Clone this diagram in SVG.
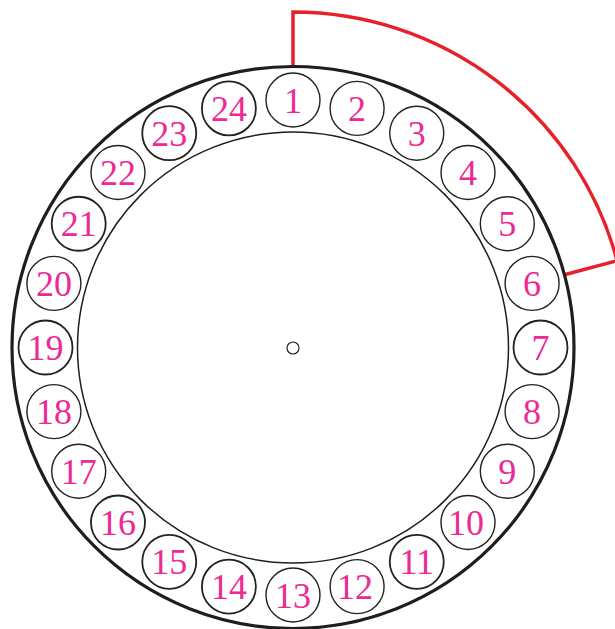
<svg xmlns="http://www.w3.org/2000/svg" width="615" height="629" viewBox="0 0 615 629">
<style>
.slot{fill:#fff;stroke:#222;stroke-width:1.4}
.num{font-family:"Liberation Serif","Times New Roman",serif;font-size:36px;fill:#ec2a93;text-anchor:middle}
</style>
<rect width="615" height="629" fill="#fff"/>
<g id="connectors">
<path d="M293,66.5 L293,12 A335.5,335.5 0 0 1 617.1,260.7 L564.4,274.8" fill="none" stroke="#e8202a" stroke-width="3.5" stroke-linejoin="miter"/>
</g>
<g id="outer-ring">
<circle cx="293" cy="347.5" r="281" fill="none" stroke="#1e1e1e" stroke-width="3.2"/>
<circle cx="293" cy="347.5" r="215.5" fill="none" stroke="#1e1e1e" stroke-width="1.5"/>
</g>
<g id="hub"><circle cx="293" cy="348" r="6" fill="#fff" stroke="#222" stroke-width="1.2"/></g>
<g id="s1"><circle class="slot" cx="293" cy="100" r="27"/><text class="num" x="293" y="112.5">1</text></g>
<g id="s2"><circle class="slot" cx="357.1" cy="108.4" r="27"/><text class="num" x="357.1" y="120.9">2</text></g>
<g id="s3"><circle class="slot" cx="416.75" cy="133.2" r="27"/><text class="num" x="416.75" y="145.7">3</text></g>
<g id="s4"><circle class="slot" cx="468" cy="172.5" r="27"/><text class="num" x="468" y="185">4</text></g>
<g id="s5"><circle class="slot" cx="507.3" cy="223.75" r="27"/><text class="num" x="507.3" y="236.25">5</text></g>
<g id="s6"><circle class="slot" cx="532.1" cy="283.4" r="27"/><text class="num" x="532.1" y="295.9">6</text></g>
<g id="s7"><circle class="slot" cx="540.5" cy="347.5" r="27" style="stroke-width:1.8"/><text class="num" x="540.5" y="360">7</text></g>
<g id="s8"><circle class="slot" cx="532.1" cy="411.6" r="27"/><text class="num" x="532.1" y="424.1">8</text></g>
<g id="s9"><circle class="slot" cx="507.3" cy="471.25" r="27"/><text class="num" x="507.3" y="483.75">9</text></g>
<g id="s10"><circle class="slot" cx="468" cy="522.5" r="27"/><text class="num" x="466" y="535">10</text></g>
<g id="s11"><circle class="slot" cx="416.75" cy="561.8" r="27" style="stroke-width:1.8"/><text class="num" x="416.75" y="574.3">11</text></g>
<g id="s12"><circle class="slot" cx="357.1" cy="586.6" r="27"/><text class="num" x="355" y="599.1">12</text></g>
<g id="s13"><circle class="slot" cx="293" cy="595" r="27"/><text class="num" x="293" y="607.5">13</text></g>
<g id="s14"><circle class="slot" cx="228.9" cy="586.6" r="27" style="stroke-width:1.8"/><text class="num" x="228.9" y="599.1">14</text></g>
<g id="s15"><circle class="slot" cx="169.25" cy="561.8" r="27" style="stroke-width:1.8"/><text class="num" x="169.25" y="574.3">15</text></g>
<g id="s16"><circle class="slot" cx="118" cy="522.5" r="27" style="stroke-width:1.8"/><text class="num" x="118" y="535">16</text></g>
<g id="s17"><circle class="slot" cx="78.7" cy="471.25" r="27"/><text class="num" x="78.7" y="483.75">17</text></g>
<g id="s18"><circle class="slot" cx="53.9" cy="411.6" r="27"/><text class="num" x="53.9" y="424.1">18</text></g>
<g id="s19"><circle class="slot" cx="45.5" cy="347.5" r="27" style="stroke-width:1.8"/><text class="num" x="45.5" y="360">19</text></g>
<g id="s20"><circle class="slot" cx="53.9" cy="283.4" r="27"/><text class="num" x="53.9" y="295.9">20</text></g>
<g id="s21"><circle class="slot" cx="78.7" cy="223.75" r="27" style="stroke-width:1.8"/><text class="num" x="78.7" y="236.25">21</text></g>
<g id="s22"><circle class="slot" cx="118" cy="172.5" r="27"/><text class="num" x="118" y="185">22</text></g>
<g id="s23"><circle class="slot" cx="169.25" cy="133.2" r="27" style="stroke-width:1.8"/><text class="num" x="169.25" y="145.7">23</text></g>
<g id="s24"><circle class="slot" cx="228.9" cy="108.4" r="27" style="stroke-width:1.8"/><text class="num" x="228.9" y="120.9">24</text></g>
</svg>
